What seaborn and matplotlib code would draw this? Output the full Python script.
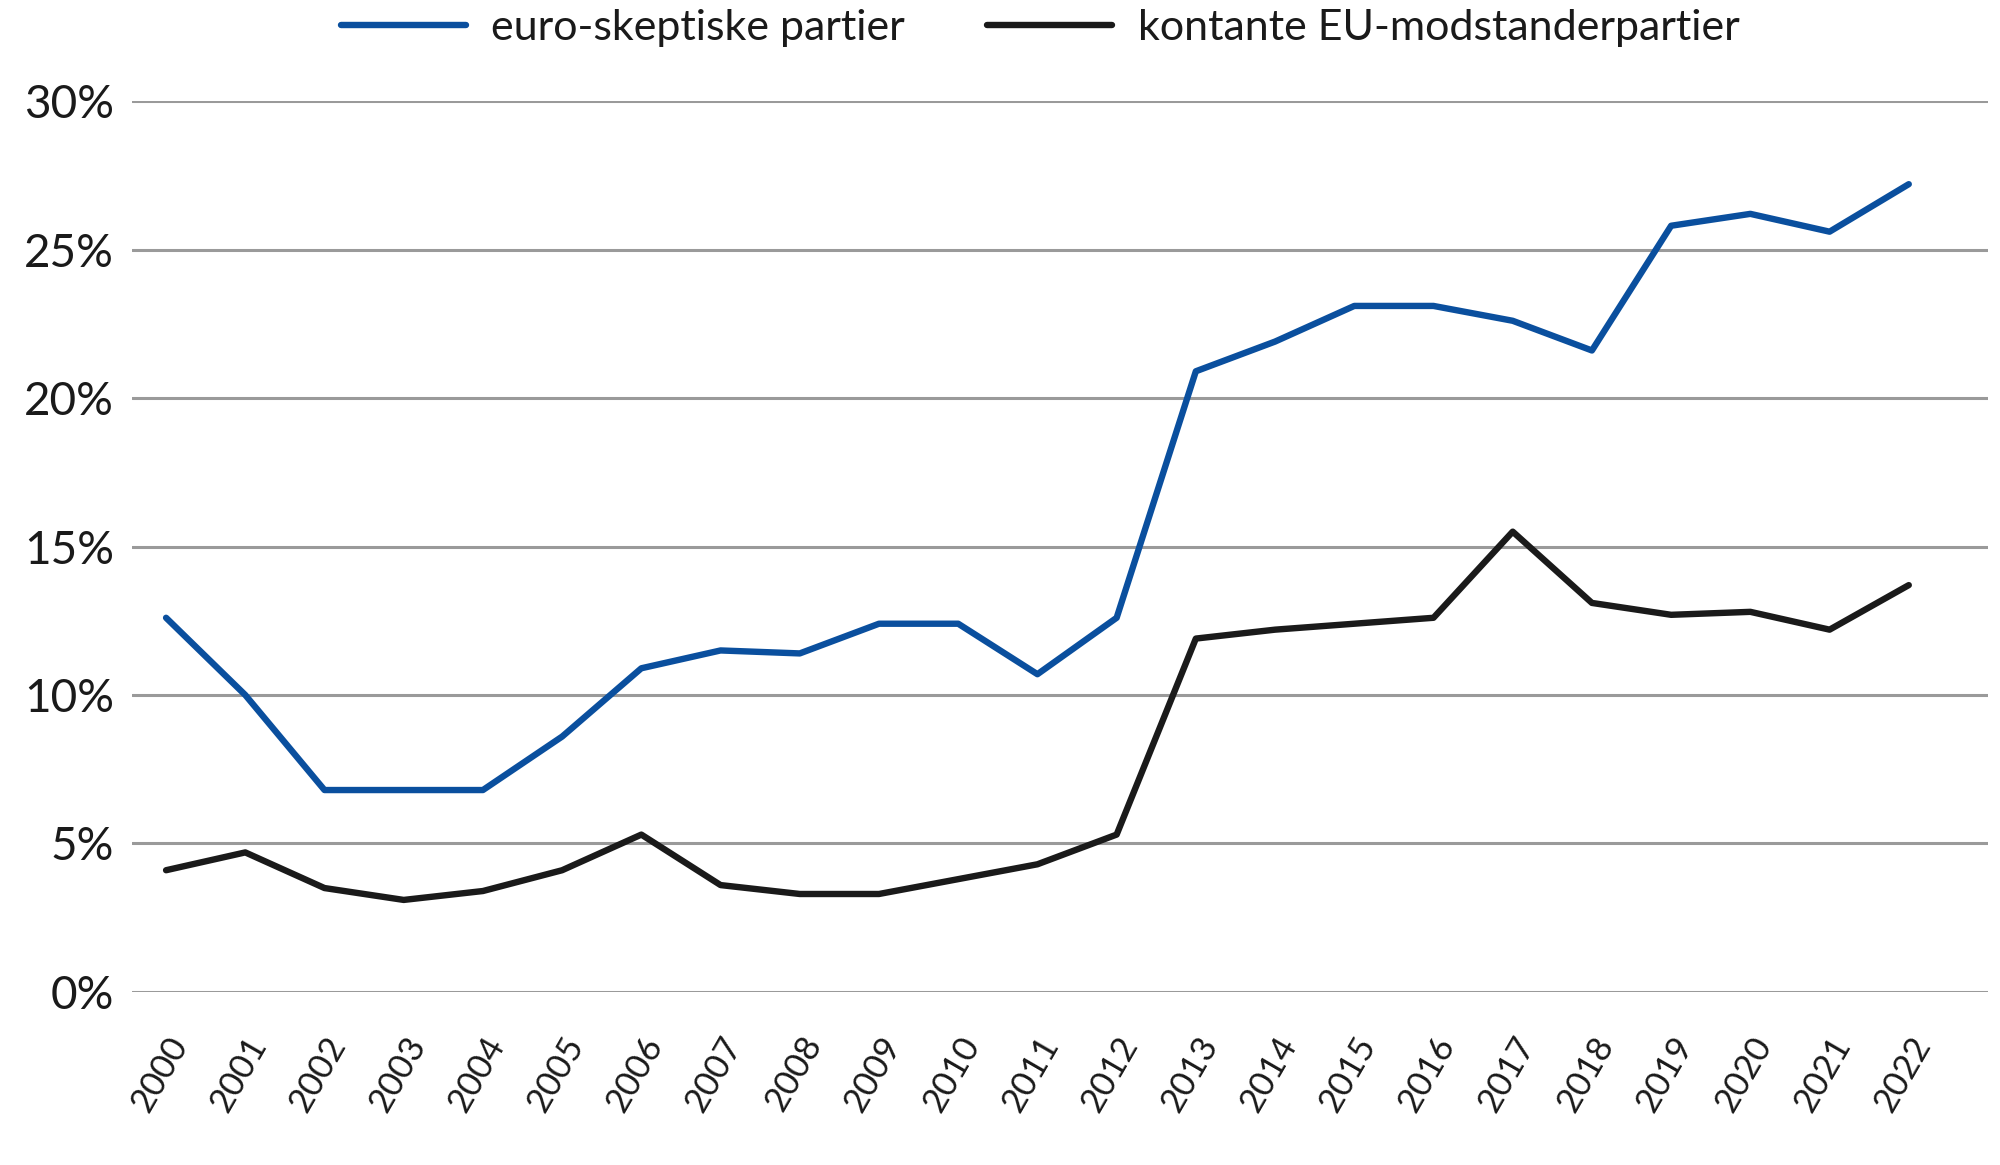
import matplotlib
matplotlib.use("Agg")
import matplotlib.pyplot as plt
import seaborn as sns
import pandas as pd

# data (percent)
years = list(range(2000, 2023))
euro_skeptic = [12.6, 10.0, 6.8, 6.8, 6.8, 8.6, 10.9, 11.5, 11.4, 12.4, 12.4,
                10.7, 12.6, 20.9, 21.9, 23.1, 23.1, 22.6, 21.6, 25.8, 26.2,
                25.6, 27.2]
eu_opponents = [4.1, 4.7, 3.5, 3.1, 3.4, 4.1, 5.3, 3.6, 3.3, 3.3, 3.8,
                4.3, 5.3, 11.9, 12.2, 12.4, 12.6, 15.5, 13.1, 12.7, 12.8,
                12.2, 13.7]
series_names = ['euro-skeptiske partier', 'kontante EU-modstanderpartier']
y_ticks = [0, 5, 10, 15, 20, 25, 30]

df = pd.DataFrame({
    'year': years * 2,
    'value': euro_skeptic + eu_opponents,
    'series': [series_names[0]] * len(years) + [series_names[1]] * len(years),
})

sns.set_style('white')
plt.rcParams['font.family'] = ['Lato', 'DejaVu Sans']

fig = plt.figure(figsize=(20, 11.65), dpi=100)
ax = fig.add_axes([0.066, 0.1485, 0.928, 0.7648])

sns.lineplot(data=df, x='year', y='value', hue='series',
             palette=['#0A4F9E', '#1A1A1A'], linewidth=4.6, ax=ax,
             zorder=3, legend=False)

ax.set_ylim(0, 30)
ax.set_xlim(2000 - 0.43, 2023)
ax.set_yticks(y_ticks)
ax.set_yticklabels([f'{t}%' for t in y_ticks], fontsize=33, color='#1A1A1A')
ax.set_xticks(years)
ax.set_xticklabels([str(y) for y in years], fontsize=25, rotation=60,
                   ha='right', va='top', rotation_mode='anchor',
                   color='#1A1A1A')
ax.grid(axis='y', color='#9A9A9A', linewidth=2.2)
ax.grid(axis='x', visible=False)
for s in ax.spines.values():
    s.set_visible(False)
ax.tick_params(axis='both', length=0)
ax.tick_params(axis='y', pad=13)
ax.tick_params(axis='x', pad=28)
ax.set_xlabel('')
ax.set_ylabel('')

handles = ax.get_lines()[:2]
fig.legend(handles, series_names, loc='center',
           bbox_to_anchor=(0.52, 1 - 28 / 1165), ncol=2, frameon=False,
           fontsize=31, handlelength=2.9, columnspacing=1.9,
           handletextpad=0.6, borderaxespad=0, labelcolor='#1A1A1A')

fig.savefig('out.png', dpi=100)
